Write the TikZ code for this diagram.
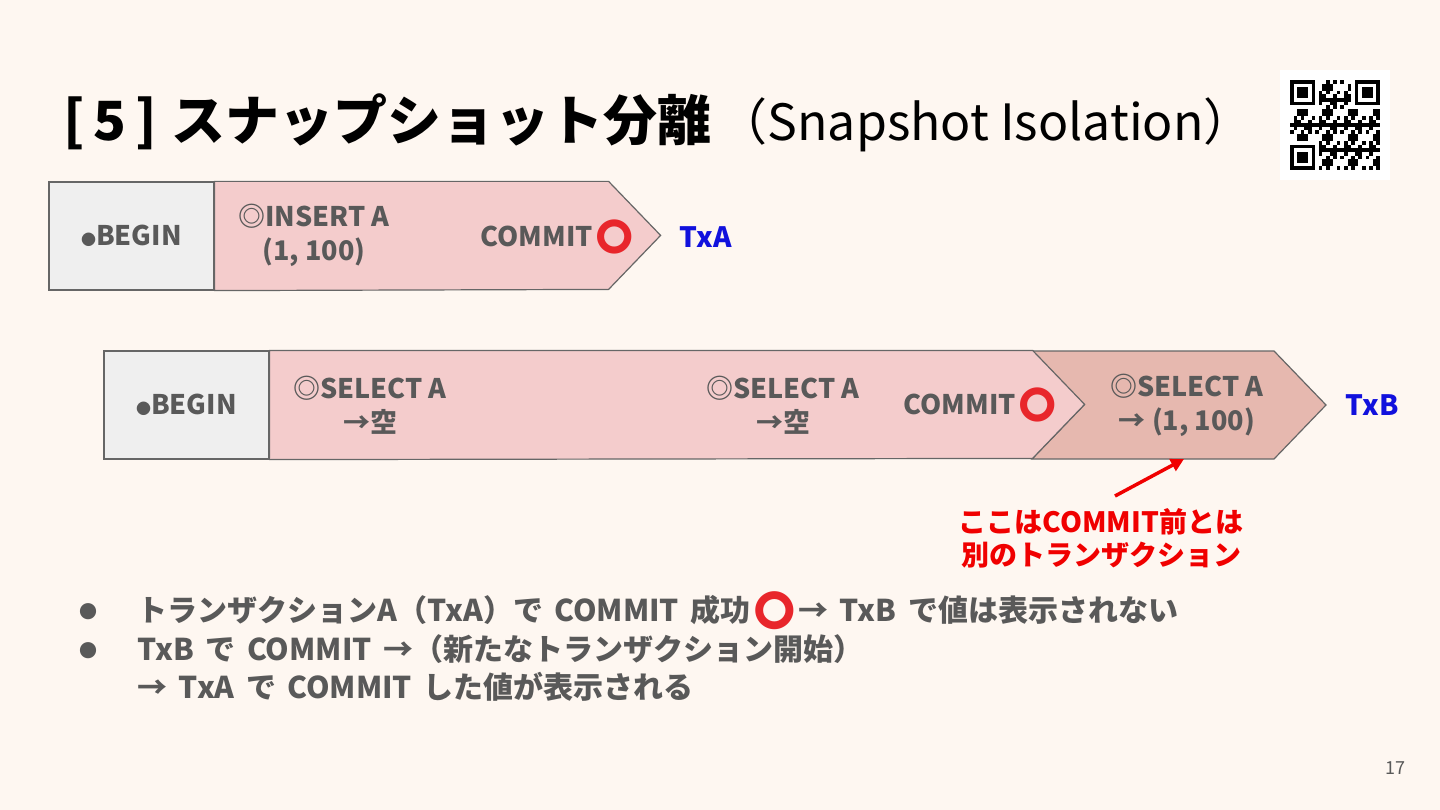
\documentclass[tikz,border=0pt]{standalone}
\usepackage{fontspec}
\setmainfont{Noto Sans CJK JP}
\newfontfamily\emojifont{Noto Emoji}
\usetikzlibrary{arrows.meta, calc, positioning}
\definecolor{slideBg}{HTML}{FEF7F1}
\definecolor{txtGray}{HTML}{595959}
\definecolor{boxLine}{HTML}{666666}
\definecolor{beginFill}{HTML}{EFEFEF}
\definecolor{stepPink}{HTML}{F4CCCC}
\definecolor{stepRose}{HTML}{E6B8AF}
\definecolor{txBlue}{HTML}{1111DD}
\definecolor{noteRed}{HTML}{F00000}
\definecolor{okRed}{HTML}{E8262B}
\newcommand{\wideSpace}{\spaceskip=0.38em plus 0.1em\relax}
\tikzset{
    beginBox/.style={draw=boxLine, fill=beginFill, line width=1.2pt, minimum width=165pt, minimum height=108pt, inner sep=0pt, font=\fontsize{27}{34}\selectfont\bfseries, text=txtGray},
    stepLine/.style={draw=boxLine, line width=1.2pt, line join=miter},
    stepText/.style={font=\fontsize{27}{34}\selectfont\bfseries, text=txtGray, align=center, inner sep=0pt},
    txLabel/.style={font=\fontsize{28}{30}\selectfont\bfseries, text=txBlue, inner sep=0pt, anchor=west},
    noteText/.style={font=\fontsize{28}{33}\selectfont\bfseries, text=noteRed, align=center, inner sep=0pt},
    noteArrow/.style={-{Triangle[length=13pt, width=13pt]}, draw=noteRed, line width=3.5pt},
    bulletText/.style={font=\fontsize{30}{39}\selectfont\bfseries, execute at begin node=\wideSpace, text=txtGray, inner sep=0pt, anchor=base west},
    bulletDot/.style={font=\fontsize{18}{20}\selectfont, text=txtGray, inner sep=0pt, anchor=base},
}
\newcommand{\okMark}{\raisebox{-0.08em}{\scalebox{1.25}{\textcolor{okRed}{\emojifont\symbol{"2B55}}}}}
\newcommand{\smallDot}{{\fontsize{15}{15}\selectfont ●}}
\newcommand{\qrFinder}[2]{
    \fill[black] (#1,#2) rectangle ++(25.2,25.2);
    \fill[white] ($(#1,#2)+(3.6,3.6)$) rectangle ++(18,18);
    \fill[black] ($(#1,#2)+(7.2,7.2)$) rectangle ++(10.8,10.8);
}

\begin{document}
\begin{tikzpicture}[x=1pt, y=-1pt]
    \fill[slideBg] (0,0) rectangle (1440,810);
    \useasboundingbox (0,0) rectangle (1440,810);

    % title
    \node[anchor=base west, inner sep=0pt, font=\fontsize{54}{60}\selectfont\bfseries] (title) at (63,141) {[\,5\,]\hspace{14pt}スナップショット分離};
    \node[anchor=base west, inner sep=0pt, font=\fontsize{50}{56}\selectfont, xshift=6pt] (titleEn) at (title.base east) {（Snapshot Isolation）};

    % qr code
    \fill[white] (1280,70) rectangle (1390,180);
    \foreach \i in {0,...,24} {
        \foreach \j in {0,...,24} {
            \pgfmathtruncatemacro\qv{((\i<8 && \j<8) || (\i>16 && \j<8) || (\i<8 && \j>16)) ? 9 : mod(\i*\i*7+\j*\j*11+\i*\j*5+\i*3+\j,7)}
            \ifnum\qv<3 \fill[black] ({1290+3.6*\i},{80+3.6*\j}) rectangle ++(3.6,3.6); \fi
        }
    }
    \qrFinder{1290}{80}
    \qrFinder{1354.8}{80}
    \qrFinder{1290}{144.8}

    % TxA
    \node[beginBox] (beginA) at (131.5,236) {\smallDot BEGIN};
    \draw[stepLine, fill=stepPink] (beginA.north east) -- ++(394,0) -- ++(52,54) -- ++(-52,54) -- (beginA.south east) -- cycle;
    \node[stepText] (insertA) at (314,235) {◎INSERT A\\(1, 100)};
    \node[stepText, anchor=east] (commitA) at (636,237) {COMMIT\okMark};
    \node[txLabel] (txA) at (679,237) {TxA};

    % TxB
    \node[beginBox] (beginB) at (186.5,405) {\smallDot BEGIN};
    \draw[stepLine, fill=stepRose] (1032,351) -- (1274,351) -- (1326,405) -- (1274,459) -- (1032,459) -- (1084,405) -- cycle;
    \draw[stepLine, fill=stepPink] (beginB.north east) -- ++(763,0) -- ++(52,54) -- ++(-52,54) -- (beginB.south east) -- cycle;
    \node[stepText] (selectB1) at (370,405) {◎SELECT A\\→空};
    \node[stepText] (selectB2) at (783,405) {◎SELECT A\\→空};
    \node[stepText, anchor=east] (commitB) at (1059,405) {COMMIT\okMark};
    \node[stepText] (selectB3) at (1187,405) {◎SELECT A\\→ (1, 100)};
    \node[txLabel] (txB) at (1345,405) {TxB};

    % note
    \node[noteText] (note) at (1101,538) {ここはCOMMIT前とは\\別のトランザクション};
    \coordinate (noteTail) at (1115,496);
    \coordinate (selectTip) at (1184,459);
    \draw[noteArrow] (noteTail) -- (selectTip);

    % bullets
    \node[bulletDot] (dot1) at (88,618) {●};
    \node[bulletDot] (dot2) at (88,657) {●};
    \node[bulletText] (item1) at (137,621) {トランザクションA（TxA）で COMMIT 成功\okMark→ TxB で値は表示されない};
    \node[bulletText] (item2) at (137,660) {TxB で COMMIT →（新たなトランザクション開始）};
    \node[bulletText] (item3) at (137,698) {→ TxA で COMMIT した値が表示される};

    \node[anchor=base east, inner sep=0pt, font=\fontsize{18}{20}\selectfont, text=txtGray] (page) at (1406,774) {17};
\end{tikzpicture}
\end{document}
